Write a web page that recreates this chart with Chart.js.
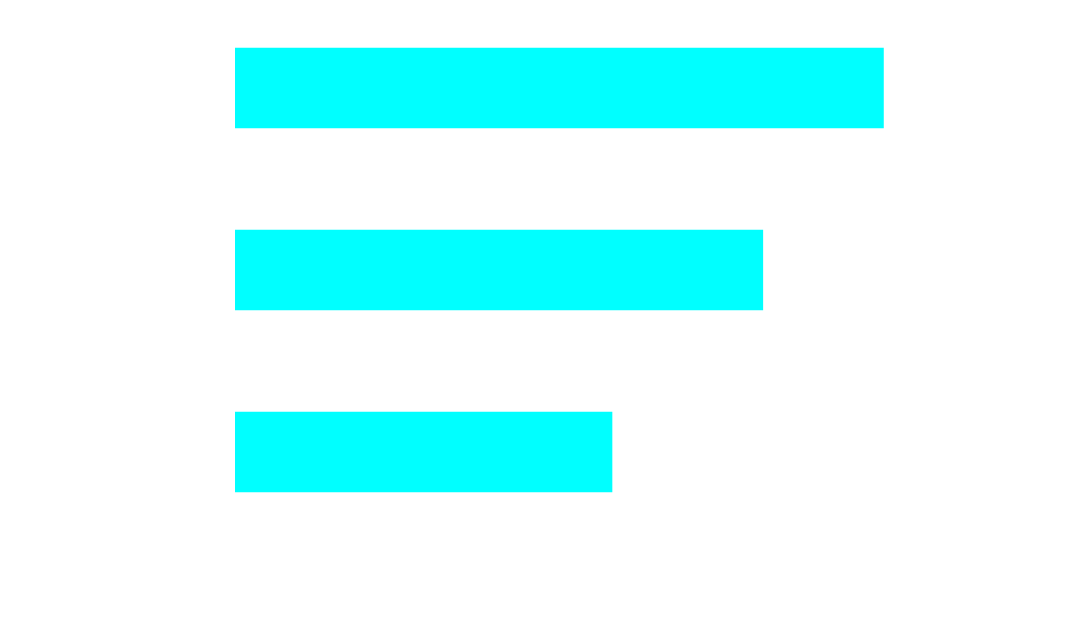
<!DOCTYPE html>
<html>
<head>
<meta charset="utf-8">
<script src="https://cdn.jsdelivr.net/npm/chart.js@4/dist/chart.umd.min.js"></script>
<style>
  html, body { margin: 0; padding: 0; background: #ffffff; overflow: hidden; }
  #wrap { position: absolute; left: 0; top: -3px; width: 1073px; height: 546px; }
</style>
</head>
<body>
<div id="wrap"><canvas id="grafico"></canvas></div>
<script>
const categorias = ['A', 'B', 'C'];
const valores    = [43, 35, 25];
const ejeMax     = 50;

const COLORS = {
  bar: '#00ffff'
};

const ctx = document.getElementById('grafico').getContext('2d');

new Chart(ctx, {
  type: 'bar',
  data: {
    labels: categorias,
    datasets: [{
      data: valores,
      backgroundColor: COLORS.bar,
      borderWidth: 0,
      barThickness: 80
    }]
  },
  options: {
    indexAxis: 'y',
    responsive: true,
    maintainAspectRatio: false,
    animation: false,
    layout: { padding: { left: 235, right: 84, top: 0, bottom: 0 } },
    plugins: { legend: { display: false }, tooltip: { enabled: false } },
    scales: {
      x: { display: false, min: 0, max: ejeMax },
      y: { display: false }
    }
  }
});
</script>
</body>
</html>
